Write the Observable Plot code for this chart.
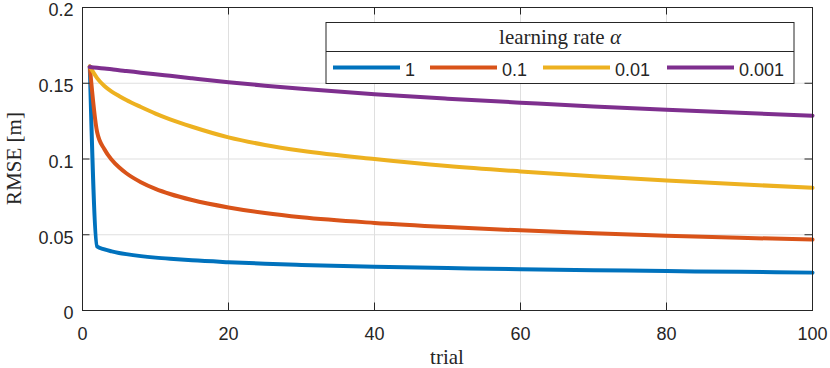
<!DOCTYPE html>
<html><head><meta charset="utf-8">
<script src="https://cdn.jsdelivr.net/npm/d3@7"></script>
<script src="https://cdn.jsdelivr.net/npm/@observablehq/plot@0.6"></script>
<style>body{margin:0;background:#fff} svg{display:block}</style>
</head><body><div id="chart"></div>
<script>
// ---- data ----
const trials = [1, 2, 3, 4, 5, 6, 8, 10, 12, 15, 20, 25, 30, 40, 50, 60, 70, 80, 90, 100];
const rate1    = [0.161, 0.0423, 0.0403, 0.0390, 0.0380, 0.0372, 0.0359, 0.0349, 0.0341, 0.0331, 0.0319, 0.0309, 0.0301, 0.0289, 0.0280, 0.0272, 0.0266, 0.0260, 0.0255, 0.0250];
const rate01   = [0.161, 0.1178, 0.1064, 0.0995, 0.0945, 0.0906, 0.0847, 0.0803, 0.0769, 0.0729, 0.0680, 0.0643, 0.0615, 0.0578, 0.0551, 0.0529, 0.0510, 0.0494, 0.0480, 0.0468];
const rate001  = [0.161, 0.1534, 0.1482, 0.1445, 0.1416, 0.1389, 0.1343, 0.1300, 0.1262, 0.1213, 0.1143, 0.1093, 0.1055, 0.1000, 0.0954, 0.0918, 0.0886, 0.0858, 0.0833, 0.0810];
const rate0001 = [0.1607, 0.1602, 0.1597, 0.1592, 0.1586, 0.1581, 0.1570, 0.1560, 0.1549, 0.1533, 0.1507, 0.1484, 0.1463, 0.1427, 0.1398, 0.1372, 0.1347, 0.1325, 0.1305, 0.1286];
const seriesNames = ["1", "0.1", "0.01", "0.001"];
const seriesValues = [rate1, rate01, rate001, rate0001];
const seriesColors = ["#0072BD", "#D95319", "#EDB120", "#7E2F8E"];
const xTicks = [0, 20, 40, 60, 80, 100];
const xTickLabels = ["0", "20", "40", "60", "80", "100"];
const yTicks = [0, 0.05, 0.1, 0.15, 0.2];
const yTickLabels = ["0", "0.05", "0.1", "0.15", "0.2"];
const xLabel = "trial";
const yLabel = "RMSE [m]";
const legendTitle = "learning rate ";
const legendSymbol = "α";

// ---- table for Plot ----
const rows = [];
seriesValues.forEach((vals, s) => vals.forEach((v, i) => rows.push({trial: trials[i], rmse: v, rate: seriesNames[s]})));

const W = 830, H = 368, mL = 82, mR = 18, mT = 7, mB = 58;
const ink = "#262626", gridColor = "#dfdfdf", tick = 7.5;
const sans = "'Liberation Sans', Arial, Helvetica, sans-serif";
const serif = "'Liberation Serif', 'Times New Roman', serif";

const plot = Plot.plot({
  width: W, height: H,
  marginLeft: mL, marginRight: mR, marginTop: mT, marginBottom: mB,
  style: {fontFamily: sans, fontSize: "18px", color: ink, background: "white", overflow: "visible"},
  x: {domain: [0, 100]},
  y: {domain: [0, 0.2]},
  color: {domain: seriesNames, range: seriesColors},
  marks: [
    Plot.gridX(xTicks, {stroke: gridColor, strokeOpacity: 1, strokeWidth: 1}),
    Plot.gridY(yTicks, {stroke: gridColor, strokeOpacity: 1, strokeWidth: 1}),
    Plot.line(rows, {x: "trial", y: "rmse", z: "rate", stroke: "rate", strokeWidth: 4, curve: "monotone-x", strokeLinejoin: "round"}),
    Plot.frame({stroke: ink, strokeWidth: 1}),
    Plot.ruleX(xTicks, {x: d => d, y1: 0, y2: 0, insetTop: -tick, stroke: ink}),
    Plot.ruleX(xTicks, {x: d => d, y1: 0.2, y2: 0.2, insetBottom: -tick, stroke: ink}),
    Plot.ruleY(yTicks, {y: d => d, x1: 0, x2: 0, insetRight: -tick, stroke: ink}),
    Plot.ruleY(yTicks, {y: d => d, x1: 100, x2: 100, insetLeft: -tick, stroke: ink}),
    Plot.axisX(xTicks, {tickSize: 0, tickPadding: 17, tickFormat: d => xTickLabels[xTicks.indexOf(d)], label: null, fill: ink}),
    Plot.axisY(yTicks, {tickSize: 0, tickPadding: 9, dy: 3, tickFormat: d => yTickLabels[yTicks.indexOf(d)], label: null, fill: ink})
  ]
});
document.getElementById("chart").appendChild(plot);

const svg = d3.select(plot);
// axis titles
svg.append("text").attr("x", (mL + W - mR) / 2).attr("y", 364)
  .attr("text-anchor", "middle").attr("font-family", serif).attr("font-size", 21).attr("fill", ink).text(xLabel);
svg.append("text").attr("transform", `translate(21,${(mT + H - mB) / 2}) rotate(-90)`)
  .attr("text-anchor", "middle").attr("font-family", serif).attr("font-size", 21).attr("fill", ink).text(yLabel);

// legend
const lg = svg.append("g");
lg.append("rect").attr("x", 326).attr("y", 22.5).attr("width", 468).attr("height", 61)
  .attr("fill", "white").attr("stroke", ink).attr("stroke-width", 1);
lg.append("line").attr("x1", 326).attr("x2", 794).attr("y1", 51.5).attr("y2", 51.5).attr("stroke", ink);
const t = lg.append("text").attr("x", 560).attr("y", 43.5).attr("text-anchor", "middle")
  .attr("font-family", serif).attr("font-size", 21).attr("fill", ink);
t.append("tspan").text(legendTitle);
t.append("tspan").attr("font-style", "italic").text(legendSymbol);
const lineX = [333, 430, 543, 667];
seriesNames.forEach((name, i) => {
  lg.append("line").attr("x1", lineX[i]).attr("x2", lineX[i] + 67).attr("y1", 67.5).attr("y2", 67.5)
    .attr("stroke", seriesColors[i]).attr("stroke-width", 4);
  lg.append("text").attr("x", lineX[i] + 72).attr("y", 76).attr("text-anchor", "start")
    .attr("font-family", sans).attr("font-size", 18).attr("fill", ink).text(name);
});
</script>
</body></html>
